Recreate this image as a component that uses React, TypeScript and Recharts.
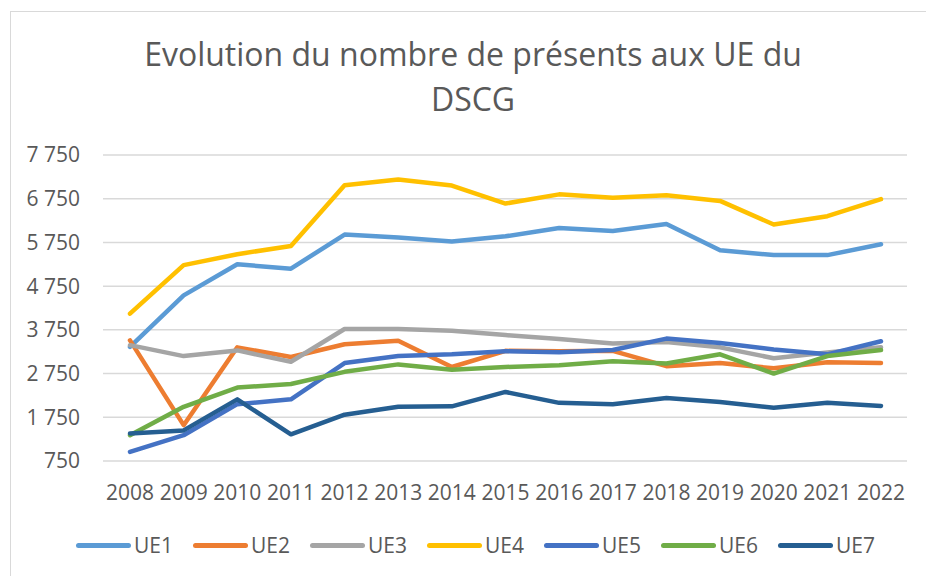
import React from 'react';
import { LineChart, Line, XAxis, YAxis, CartesianGrid, Legend } from 'recharts';

const years = ['2008', '2009', '2010', '2011', '2012', '2013', '2014', '2015', '2016', '2017', '2018', '2019', '2020', '2021', '2022'];

const ue1 = [3360, 4540, 5250, 5150, 5930, 5860, 5770, 5890, 6080, 6010, 6170, 5570, 5460, 5460, 5710];
const ue2 = [3510, 1570, 3350, 3130, 3420, 3500, 2900, 3270, 3260, 3270, 2920, 2990, 2870, 3010, 2990];
const ue3 = [3400, 3150, 3280, 3020, 3770, 3770, 3730, 3630, 3540, 3440, 3470, 3350, 3100, 3230, 3350];
const ue4 = [4120, 5230, 5480, 5670, 7060, 7190, 7050, 6640, 6850, 6770, 6830, 6700, 6160, 6350, 6740];
const ue5 = [960, 1340, 2050, 2160, 2990, 3150, 3190, 3260, 3240, 3290, 3550, 3450, 3300, 3190, 3490];
const ue6 = [1340, 1990, 2430, 2510, 2790, 2960, 2840, 2900, 2940, 3030, 2980, 3190, 2750, 3150, 3290];
const ue7 = [1380, 1450, 2160, 1360, 1810, 1990, 2000, 2330, 2080, 2050, 2190, 2100, 1970, 2080, 2010];

const yTicks = [750, 1750, 2750, 3750, 4750, 5750, 6750, 7750];

const series = [
  { key: 'UE1', values: ue1, color: '#5B9BD5' },
  { key: 'UE2', values: ue2, color: '#ED7D31' },
  { key: 'UE3', values: ue3, color: '#A5A5A5' },
  { key: 'UE4', values: ue4, color: '#FFC000' },
  { key: 'UE5', values: ue5, color: '#4472C4' },
  { key: 'UE6', values: ue6, color: '#70AD47' },
  { key: 'UE7', values: ue7, color: '#255E91' },
];

const data = years.map((year, i) => {
  const row: Record<string, string | number> = { year };
  series.forEach((s) => {
    row[s.key] = s.values[i];
  });
  return row;
});

const textColor = '#595959';
const font = '"Open Sans", sans-serif';

const formatTick = (v: number) => v.toLocaleString('fr-FR').replace(/\s/g, ' ');

// legend items on a fixed pitch, like the Excel original
const LegendContent = () => (
  <div style={{ display: 'flex', alignItems: 'center', height: 34, paddingLeft: 76, fontFamily: font }}>
    {series.map((s) => (
      <div key={s.key} style={{ display: 'flex', alignItems: 'center', width: 117, flexShrink: 0 }}>
        <div style={{ width: 55, height: 5, borderRadius: 3, background: s.color, marginRight: 3 }} />
        <span style={{ fontSize: 21, color: textColor }}>{s.key}</span>
      </div>
    ))}
  </div>
);

const App = () => {
  return (
    <div style={{ position: 'absolute', left: 0, top: 0, width: 926, height: 576, overflow: 'hidden', background: '#fff' }}>
      <div
        style={{
          position: 'absolute',
          left: 10,
          top: 11,
          width: 940,
          height: 600,
          border: '1.5px solid #D9D9D9',
          boxSizing: 'border-box',
        }}
      />
      <div
        style={{
          position: 'absolute',
          left: 10,
          top: 31,
          width: 926,
          textAlign: 'center',
          fontFamily: font,
          fontSize: 32,
          lineHeight: '45px',
          color: textColor,
        }}
      >
        Evolution du nombre de présents aux UE du
        <br />
        DSCG
      </div>
      <div style={{ position: 'absolute', left: 0, top: 0 }}>
        <LineChart width={926} height={576} data={data} margin={{ top: 155, right: 19, left: 0, bottom: 14 }}>
          <CartesianGrid vertical={false} stroke="#D9D9D9" strokeWidth={1.5} />
          <XAxis
            dataKey="year"
            axisLine={false}
            tickLine={false}
            tickSize={0}
            tickMargin={24}
            height={67}
            padding={{ left: 27, right: 26 }}
            interval={0}
            tick={{ fill: textColor, fontSize: 21, fontFamily: font }}
          />
          <YAxis
            width={103}
            domain={[750, 7750]}
            ticks={yTicks}
            axisLine={false}
            tickLine={false}
            tickSize={0}
            tickMargin={23}
            tickFormatter={formatTick}
            tick={{ fill: textColor, fontSize: 21, fontFamily: font }}
          />
          <Legend verticalAlign="bottom" align="left" content={<LegendContent />} />
          {series.map((s) => (
            <Line
              key={s.key}
              dataKey={s.key}
              stroke={s.color}
              strokeWidth={4.5}
              strokeLinecap="round"
              strokeLinejoin="round"
              dot={false}
              isAnimationActive={false}
            />
          ))}
        </LineChart>
      </div>
    </div>
  );
};

export default App;
